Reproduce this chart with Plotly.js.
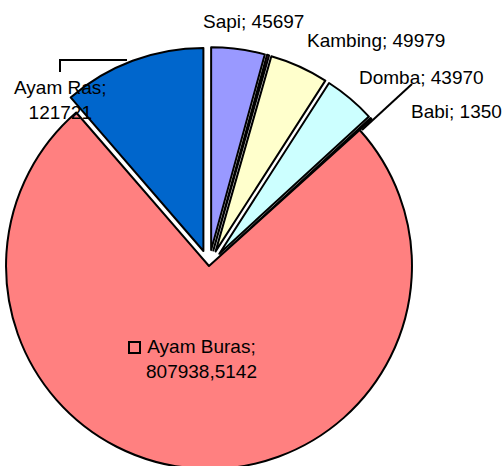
<!DOCTYPE html>
<html>
<head>
<meta charset="utf-8">
<script src="https://cdn.plot.ly/plotly-3.0.1.min.js"></script>
<style>
  html, body { margin: 0; padding: 0; overflow: hidden; background: #fff; }
  #plot { position: absolute; left: -12px; top: 0; width: 530px; height: 490px; }
</style>
</head>
<body>
<div id="plot"></div>
<script>
// slices, clockwise from 12 o'clock
const labels = ['Sapi', 'Kerbau', 'Kambing', 'Domba', 'Babi', 'Ayam Buras', 'Ayam Ras'];
const values = [45697, 1800, 49979, 43970, 1350, 807938.5142, 121721];
const valueText = ['45697', '', '49979', '43970', '1350', '807938,5142', '121721'];
const colors = ['#9999FF', '#993366', '#FFFFCC', '#CCFFFF', '#660066', '#FF8080', '#0066CC'];
const pulls = [0.079, 0.079, 0.079, 0.079, 0.079, 0, 0.079];

// pie box: div is shifted left so the big slice can run off the picture
const OFF = 12, ML = 2, MT = 47, BOX = 438;
function px(x) { return (x + OFF - ML) / BOX; }
function py(y) { return 1 - (y - MT) / BOX; }

// label centres (page pixels), and which label gets a line break
const labelPos = {
    'Sapi': [253, 22],
    'Kambing': [376, 40],
    'Domba': [421, 77],
    'Babi': [456, 112],
    'Ayam Buras': [201, 359],
    'Ayam Ras': [60, 100]
};
const twoLine = ['Ayam Buras', 'Ayam Ras'];

const trace = {
    type: 'pie',
    labels: labels,
    values: values,
    sort: false,
    direction: 'clockwise',
    rotation: 0,
    pull: pulls,
    textinfo: 'none',
    hoverinfo: 'skip',
    showlegend: false,
    marker: { colors: colors, line: { color: '#000000', width: 2 } }
};

let annotations = [];
labels.forEach((lab, i) => {
    if (!labelPos[lab]) return;
    const sep = twoLine.includes(lab) ? ';<br>' : '; ';
    annotations.push({
        xref: 'paper', yref: 'paper',
        x: px(labelPos[lab][0]), y: py(labelPos[lab][1]),
        xanchor: 'center', yanchor: 'middle',
        text: lab + sep + valueText[i],
        showarrow: false,
        font: { family: 'Liberation Sans, Arial, sans-serif', size: 19, color: '#000' }
    });
});

const shapes = [
    // Ayam Ras leader
    { type: 'path', xref: 'paper', yref: 'paper',
      path: `M ${px(60)} ${py(72)} L ${px(60)} ${py(60)} L ${px(127)} ${py(60)}`,
      line: { color: '#000', width: 2 } },
    // Babi leader
    { type: 'line', xref: 'paper', yref: 'paper',
      x0: px(362), y0: py(130), x1: px(412), y1: py(84),
      line: { color: '#000', width: 2 } },
    // legend key in the Ayam Buras label
    { type: 'rect', xref: 'paper', yref: 'paper',
      x0: px(129), y0: py(342), x1: px(140), y1: py(353),
      line: { color: '#000', width: 2 }, fillcolor: 'rgba(0,0,0,0)' }
];

const layout = {
    width: 530,
    height: 490,
    margin: { l: ML, r: 530 - ML - BOX, t: MT, b: 490 - MT - BOX },
    paper_bgcolor: '#ffffff',
    annotations: annotations,
    shapes: shapes
};

Plotly.newPlot('plot', [trace], layout, { displayModeBar: false, staticPlot: true });
</script>
</body>
</html>
